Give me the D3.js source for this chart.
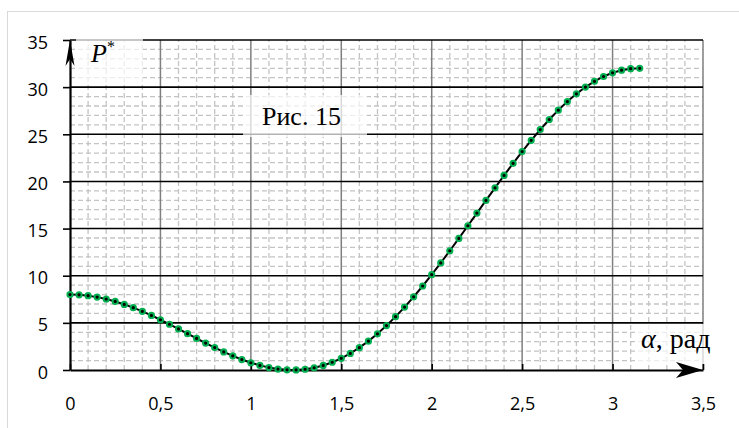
<!DOCTYPE html>
<html>
<head>
<meta charset="utf-8">
<script src="https://cdn.jsdelivr.net/npm/d3@7"></script>
<style>
  html, body { margin: 0; padding: 0; background: #fff; }
  svg { display: block; }
</style>
</head>
<body>
<svg id="chart" width="739" height="428"></svg>
<script>
// ---- data ----
const alphaValues = [0, 0.05, 0.1, 0.15, 0.2, 0.25, 0.3, 0.35, 0.4, 0.45, 0.5, 0.55, 0.6, 0.65, 0.7, 0.75,
  0.8, 0.85, 0.9, 0.95, 1.0, 1.05, 1.1, 1.15, 1.2, 1.25, 1.3, 1.35, 1.4, 1.45, 1.5, 1.55,
  1.6, 1.65, 1.7, 1.75, 1.8, 1.85, 1.9, 1.95, 2.0, 2.05, 2.1, 2.15, 2.2, 2.25, 2.3, 2.35,
  2.4, 2.45, 2.5, 2.55, 2.6, 2.65, 2.7, 2.75, 2.8, 2.85, 2.9, 2.95, 3.0, 3.05, 3.1, 3.15];
const pValues = [8.0, 7.97, 7.88, 7.73, 7.53, 7.27, 6.96, 6.61, 6.22, 5.79, 5.33, 4.85, 4.36, 3.85, 3.35, 2.86,
  2.38, 1.92, 1.5, 1.11, 0.77, 0.49, 0.26, 0.1, 0.02, 0.01, 0.08, 0.24, 0.48, 0.82, 1.24, 1.76,
  2.37, 3.06, 3.84, 4.71, 5.66, 6.67, 7.76, 8.91, 10.11, 11.36, 12.65, 13.96, 15.3, 16.64, 17.99, 19.32,
  20.64, 21.92, 23.17, 24.36, 25.5, 26.57, 27.56, 28.47, 29.29, 30.01, 30.62, 31.13, 31.52, 31.8, 31.96, 32.0];
const xTicks = [0, 0.5, 1, 1.5, 2, 2.5, 3, 3.5];
const xTickLabels = ["0", "0,5", "1", "1,5", "2", "2,5", "3", "3,5"];
const yTicks = [0, 5, 10, 15, 20, 25, 30, 35];
const yTickLabels = ["0", "5", "10", "15", "20", "25", "30", "35"];
const chartLabel = "Рис. 15";
const xAxisTitle = ["α", ", рад"];
const yAxisTitle = ["P", "*"];

// ---- layout ----
const svg = d3.select("#chart");
const x = d3.scaleLinear().domain([0, 3.5]).range([70, 703]);
const y = d3.scaleLinear().domain([0, 35]).range([370, 40]);

// outer chart border
svg.append("rect").attr("x", 7.5).attr("y", 11.5).attr("width", 745).attr("height", 430)
  .attr("fill", "#fff").attr("stroke", "#d9d9d9").attr("stroke-width", 1);

const g = svg.append("g");

// minor dashed gridlines
const xMinor = d3.range(0, 3.5001, 0.1).filter(v => Math.abs(v * 2 - Math.round(v * 2)) > 1e-6);
const yMinor = d3.range(0, 35.001, 1).filter(v => v % 5 !== 0);
g.selectAll(".xminor").data(xMinor).join("line")
  .attr("x1", d => x(d)).attr("x2", d => x(d)).attr("y1", y(0)).attr("y2", y(35))
  .attr("stroke", "#c4c4c4").attr("stroke-width", 1.3).attr("stroke-dasharray", "5,3");
g.selectAll(".yminor").data(yMinor).join("line")
  .attr("x1", x(0)).attr("x2", x(3.5)).attr("y1", d => y(d)).attr("y2", d => y(d))
  .attr("stroke", "#c4c4c4").attr("stroke-width", 1.3).attr("stroke-dasharray", "5,3");

// major gridlines
g.selectAll(".xmajor").data(xTicks.slice(1)).join("line")
  .attr("x1", d => x(d)).attr("x2", d => x(d)).attr("y1", y(0)).attr("y2", y(35))
  .attr("stroke", "#7f7f7f").attr("stroke-width", 1.5);
g.selectAll(".ymajor").data(yTicks.slice(1)).join("line")
  .attr("x1", x(0)).attr("x2", x(3.5)).attr("y1", d => y(d)).attr("y2", d => y(d))
  .attr("stroke", "#000").attr("stroke-width", 1.6);

// label boxes (semi-transparent white)
const boxes = [
  {x0: 76, y0: 36, x1: 143, y1: 84},
  {x0: 243, y0: 95, x1: 367, y1: 137},
  {x0: 638, y0: 324, x1: 724, y1: 364}
];
g.selectAll(".box").data(boxes).join("rect")
  .attr("x", d => d.x0).attr("y", d => d.y0)
  .attr("width", d => d.x1 - d.x0).attr("height", d => d.y1 - d.y0)
  .attr("fill", "#fff").attr("fill-opacity", 0.7);

// y axis
const yAxis = d3.axisLeft(y).tickValues(yTicks).tickFormat((d, i) => yTickLabels[i])
  .tickSizeInner(7).tickSizeOuter(0).tickPadding(15);
const gy = svg.append("g").attr("transform", `translate(${x(0)},0)`).call(yAxis);
gy.select(".domain").attr("stroke", "#000").attr("stroke-width", 2.2);
gy.selectAll(".tick line").attr("stroke", "#000").attr("stroke-width", 1.6);
gy.selectAll(".tick text").attr("font-family", "'Open Sans', sans-serif").attr("font-size", 18)
  .attr("fill", "#000").attr("dy", "0.45em");

// x axis
const xAxis = d3.axisBottom(x).tickValues(xTicks).tickFormat((d, i) => xTickLabels[i])
  .tickSizeInner(-6).tickSizeOuter(0).tickPadding(27);
const gx = svg.append("g").attr("transform", `translate(0,${y(0)})`).call(xAxis);
gx.select(".domain").attr("stroke", "#000").attr("stroke-width", 2.2);
gx.selectAll(".tick line").attr("stroke", "#000").attr("stroke-width", 1.6);
gx.selectAll(".tick text").attr("font-family", "'Open Sans', sans-serif").attr("font-size", 18)
  .attr("fill", "#000");

// arrowheads
const ax = x(0), ay = y(35);
svg.append("path")
  .attr("d", `M${ax},${ay} L${ax + 4.5},${ay + 26} L${ax},${ay + 19} L${ax - 4.5},${ay + 26} Z`)
  .attr("fill", "#000");
const bx = x(3.5), by = y(0);
svg.append("path")
  .attr("d", `M${bx},${by} L${bx - 27},${by - 8} L${bx - 20},${by} L${bx - 27},${by + 8} Z`)
  .attr("fill", "#000");

// series
const pts = alphaValues.map((a, i) => [a, pValues[i]]);
svg.append("path").datum(pts)
  .attr("d", d3.line().x(d => x(d[0])).y(d => y(d[1])))
  .attr("fill", "none").attr("stroke", "#000").attr("stroke-width", 2);
svg.selectAll(".pt").data(pts).join("circle")
  .attr("cx", d => x(d[0])).attr("cy", d => y(d[1])).attr("r", 2.6)
  .attr("fill", "#000").attr("stroke", "#00b050").attr("stroke-width", 2);

// text labels
const pt = svg.append("text").attr("x", 91).attr("y", 62)
  .attr("font-family", "'Liberation Serif', serif").attr("font-size", 26).attr("font-style", "italic");
pt.append("tspan").text(yAxisTitle[0]);
pt.append("tspan").attr("dy", -10).attr("font-size", 16).attr("font-style", "normal").text(yAxisTitle[1]);

svg.append("text").attr("x", 262).attr("y", 125)
  .attr("font-family", "'Liberation Serif', serif").attr("font-size", 26).text(chartLabel);

const at = svg.append("text").attr("x", 641).attr("y", 348)
  .attr("font-family", "'Liberation Serif', serif").attr("font-size", 28);
at.append("tspan").attr("font-style", "italic").text(xAxisTitle[0]);
at.append("tspan").text(xAxisTitle[1]);
</script>
</body>
</html>
